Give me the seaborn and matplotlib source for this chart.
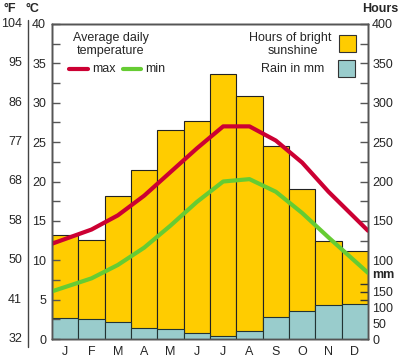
import matplotlib
matplotlib.use("Agg")
import matplotlib.pyplot as plt
import matplotlib.transforms as mtransforms
from matplotlib.lines import Line2D
from matplotlib.patches import Rectangle
import numpy as np
import seaborn as sns

# Données
mois = ["J", "F", "M", "A", "M", "J", "J", "A", "S", "O", "N", "D"]
soleil_heures = [132, 126, 181, 214, 265, 277, 336, 309, 245, 190, 124, 112]
pluie_mm = [67, 62, 54, 35, 33, 20, 8, 25, 69, 89, 107, 112]
temp_max = [12.7, 13.9, 15.7, 18.2, 21.2, 24.2, 27.0, 27.0, 25.2, 22.4, 18.7, 15.4]
temp_min = [6.6, 7.7, 9.4, 11.6, 14.4, 17.4, 20.0, 20.3, 18.7, 16.0, 12.9, 9.9]
degres_c = [0, 5, 10, 15, 20, 25, 30, 35, 40]
degres_f = ["32", "41", "50", "58", "68", "77", "86", "95", "104"]
heures_ticks = [100, 150, 200, 250, 300, 350, 400]
pluie_ticks = [0, 50, 100, 150]

JAUNE = "#FFCC00"
TURQUOISE = "#99CCCC"
ROUGE = "#CC0033"
VERT = "#66CC33"
GRIS = "#555555"

sns.set_style("white")
plt.rcParams["font.family"] = ["Liberation Sans", "DejaVu Sans"]

W, H = 400, 360
fig = plt.figure(figsize=(W / 100, H / 100), dpi=100)


def px(x, y):
    """Convertit des pixels (origine en haut à gauche) en coordonnées figure."""
    return x / W, 1 - y / H


gauche, droite, haut, bas = 52, 368, 24, 339
ax_h = fig.add_axes([gauche / W, 1 - bas / H, (droite - gauche) / W, (bas - haut) / H])

idx = np.arange(len(mois))

# Heures d'ensoleillement
sns.barplot(x=idx, y=soleil_heures, native_scale=True, width=1, color=JAUNE,
            saturation=1, edgecolor="#222222", linewidth=0.8, ax=ax_h)
ax_h.set_ylim(0, 400)
ax_h.set_xlim(-0.5, 11.5)

# Pluie (échelle mm : 25 mm = 10 heures)
ax_r = ax_h.twinx()
sns.barplot(x=idx, y=pluie_mm, native_scale=True, width=1, color=TURQUOISE,
            saturation=1, edgecolor="#223333", linewidth=0.8, ax=ax_r)
ax_r.set_ylim(0, 1000)

# Températures
ax_t = ax_h.twinx()


def prolonger(valeurs):
    v = list(valeurs)
    debut = v[0] - (v[1] - v[0]) / 2
    fin = v[-1] + (v[-1] - v[-2]) / 2
    return [debut] + v + [fin]


x_ext = [-0.5] + list(idx) + [11.5]
sns.lineplot(x=x_ext, y=prolonger(temp_max), color=ROUGE, lw=3.0, sort=False, ax=ax_t)
sns.lineplot(x=x_ext, y=prolonger(temp_min), color=VERT, lw=3.0, sort=False, ax=ax_t)
ax_t.set_ylim(0, 40)
ax_t.set_xlim(-0.5, 11.5)

for a in (ax_h, ax_r, ax_t):
    a.set_xlabel("")
    a.set_ylabel("")
    for s in a.spines.values():
        s.set_color(GRIS)
        s.set_linewidth(1)

# Axe °C à gauche
ax_t.yaxis.tick_left()
ax_t.set_yticks(degres_c)
ax_t.set_yticks(np.arange(2.5, 40, 5), minor=True)
ax_t.tick_params(axis="y", which="both", direction="in", length=6, width=1,
                 color=GRIS, labelsize=9, pad=4.3)

# Axe heures à droite
ax_h.yaxis.tick_right()
ax_h.set_yticks(heures_ticks)
ax_h.set_yticks(np.arange(125, 400, 50), minor=True)
ax_h.tick_params(axis="y", which="both", direction="in", length=6, width=1,
                 color=GRIS, labelsize=9, pad=3)

# Axe mm à droite
ax_r.set_yticks(pluie_ticks)
ax_r.set_yticks(np.arange(25, 200, 50), minor=True)
ax_r.tick_params(axis="y", which="both", direction="in", length=6, width=1,
                 color="#333333", labelsize=9, pad=3)

ax_h.set_xticks(idx)
ax_h.set_xticklabels(mois)
ax_h.tick_params(axis="x", length=0, labelsize=9, pad=5)

# Graduation °F
trans = mtransforms.blended_transform_factory(fig.transFigure, ax_t.transData)
for c, f in zip(degres_c, degres_f):
    fig.text(22 / W, c, f, transform=trans, ha="right", va="center", fontsize=9)
fig.add_artist(Line2D([28 / W, 28 / W], [1 - 20 / H, 1 - 347 / H], color="#444444", lw=1))

fig.text(*px(3, 9), "°F", ha="left", va="center", fontsize=9, fontweight="bold")
fig.text(*px(25, 9), "°C", ha="left", va="center", fontsize=9, fontweight="bold")
fig.text(*px(362, 9), "Hours", ha="left", va="center", fontsize=9, fontweight="bold")
fig.text(*px(372, 275), "mm", ha="left", va="center", fontsize=9, fontweight="bold")

# Légende températures
fig.text(*px(111, 38), "Average daily", ha="center", va="center", fontsize=9)
fig.text(*px(111, 51), "temperature", ha="center", va="center", fontsize=9)
fig.add_artist(Line2D([69 / W, 88 / W], [1 - 69 / H] * 2, color=ROUGE, lw=3.0))
fig.text(*px(92, 69), "max", ha="left", va="center", fontsize=9)
fig.add_artist(Line2D([123 / W, 141 / W], [1 - 69 / H] * 2, color=VERT, lw=3.0))
fig.text(*px(145, 69), "min", ha="left", va="center", fontsize=9)

# Légende barres
fig.text(*px(290, 38), "Hours of bright", ha="center", va="center", fontsize=9)
fig.text(*px(293, 51), "sunshine", ha="center", va="center", fontsize=9)
fig.add_artist(Rectangle(px(339, 52), 17 / W, 17 / H, facecolor=JAUNE,
                         edgecolor="#333333", lw=0.8, transform=fig.transFigure))
fig.text(*px(324, 69), "Rain in mm", ha="right", va="center", fontsize=9)
fig.add_artist(Rectangle(px(338, 77), 17 / W, 17 / H, facecolor=TURQUOISE,
                         edgecolor="#333333", lw=0.8, transform=fig.transFigure))

fig.savefig("out.png", dpi=100)
